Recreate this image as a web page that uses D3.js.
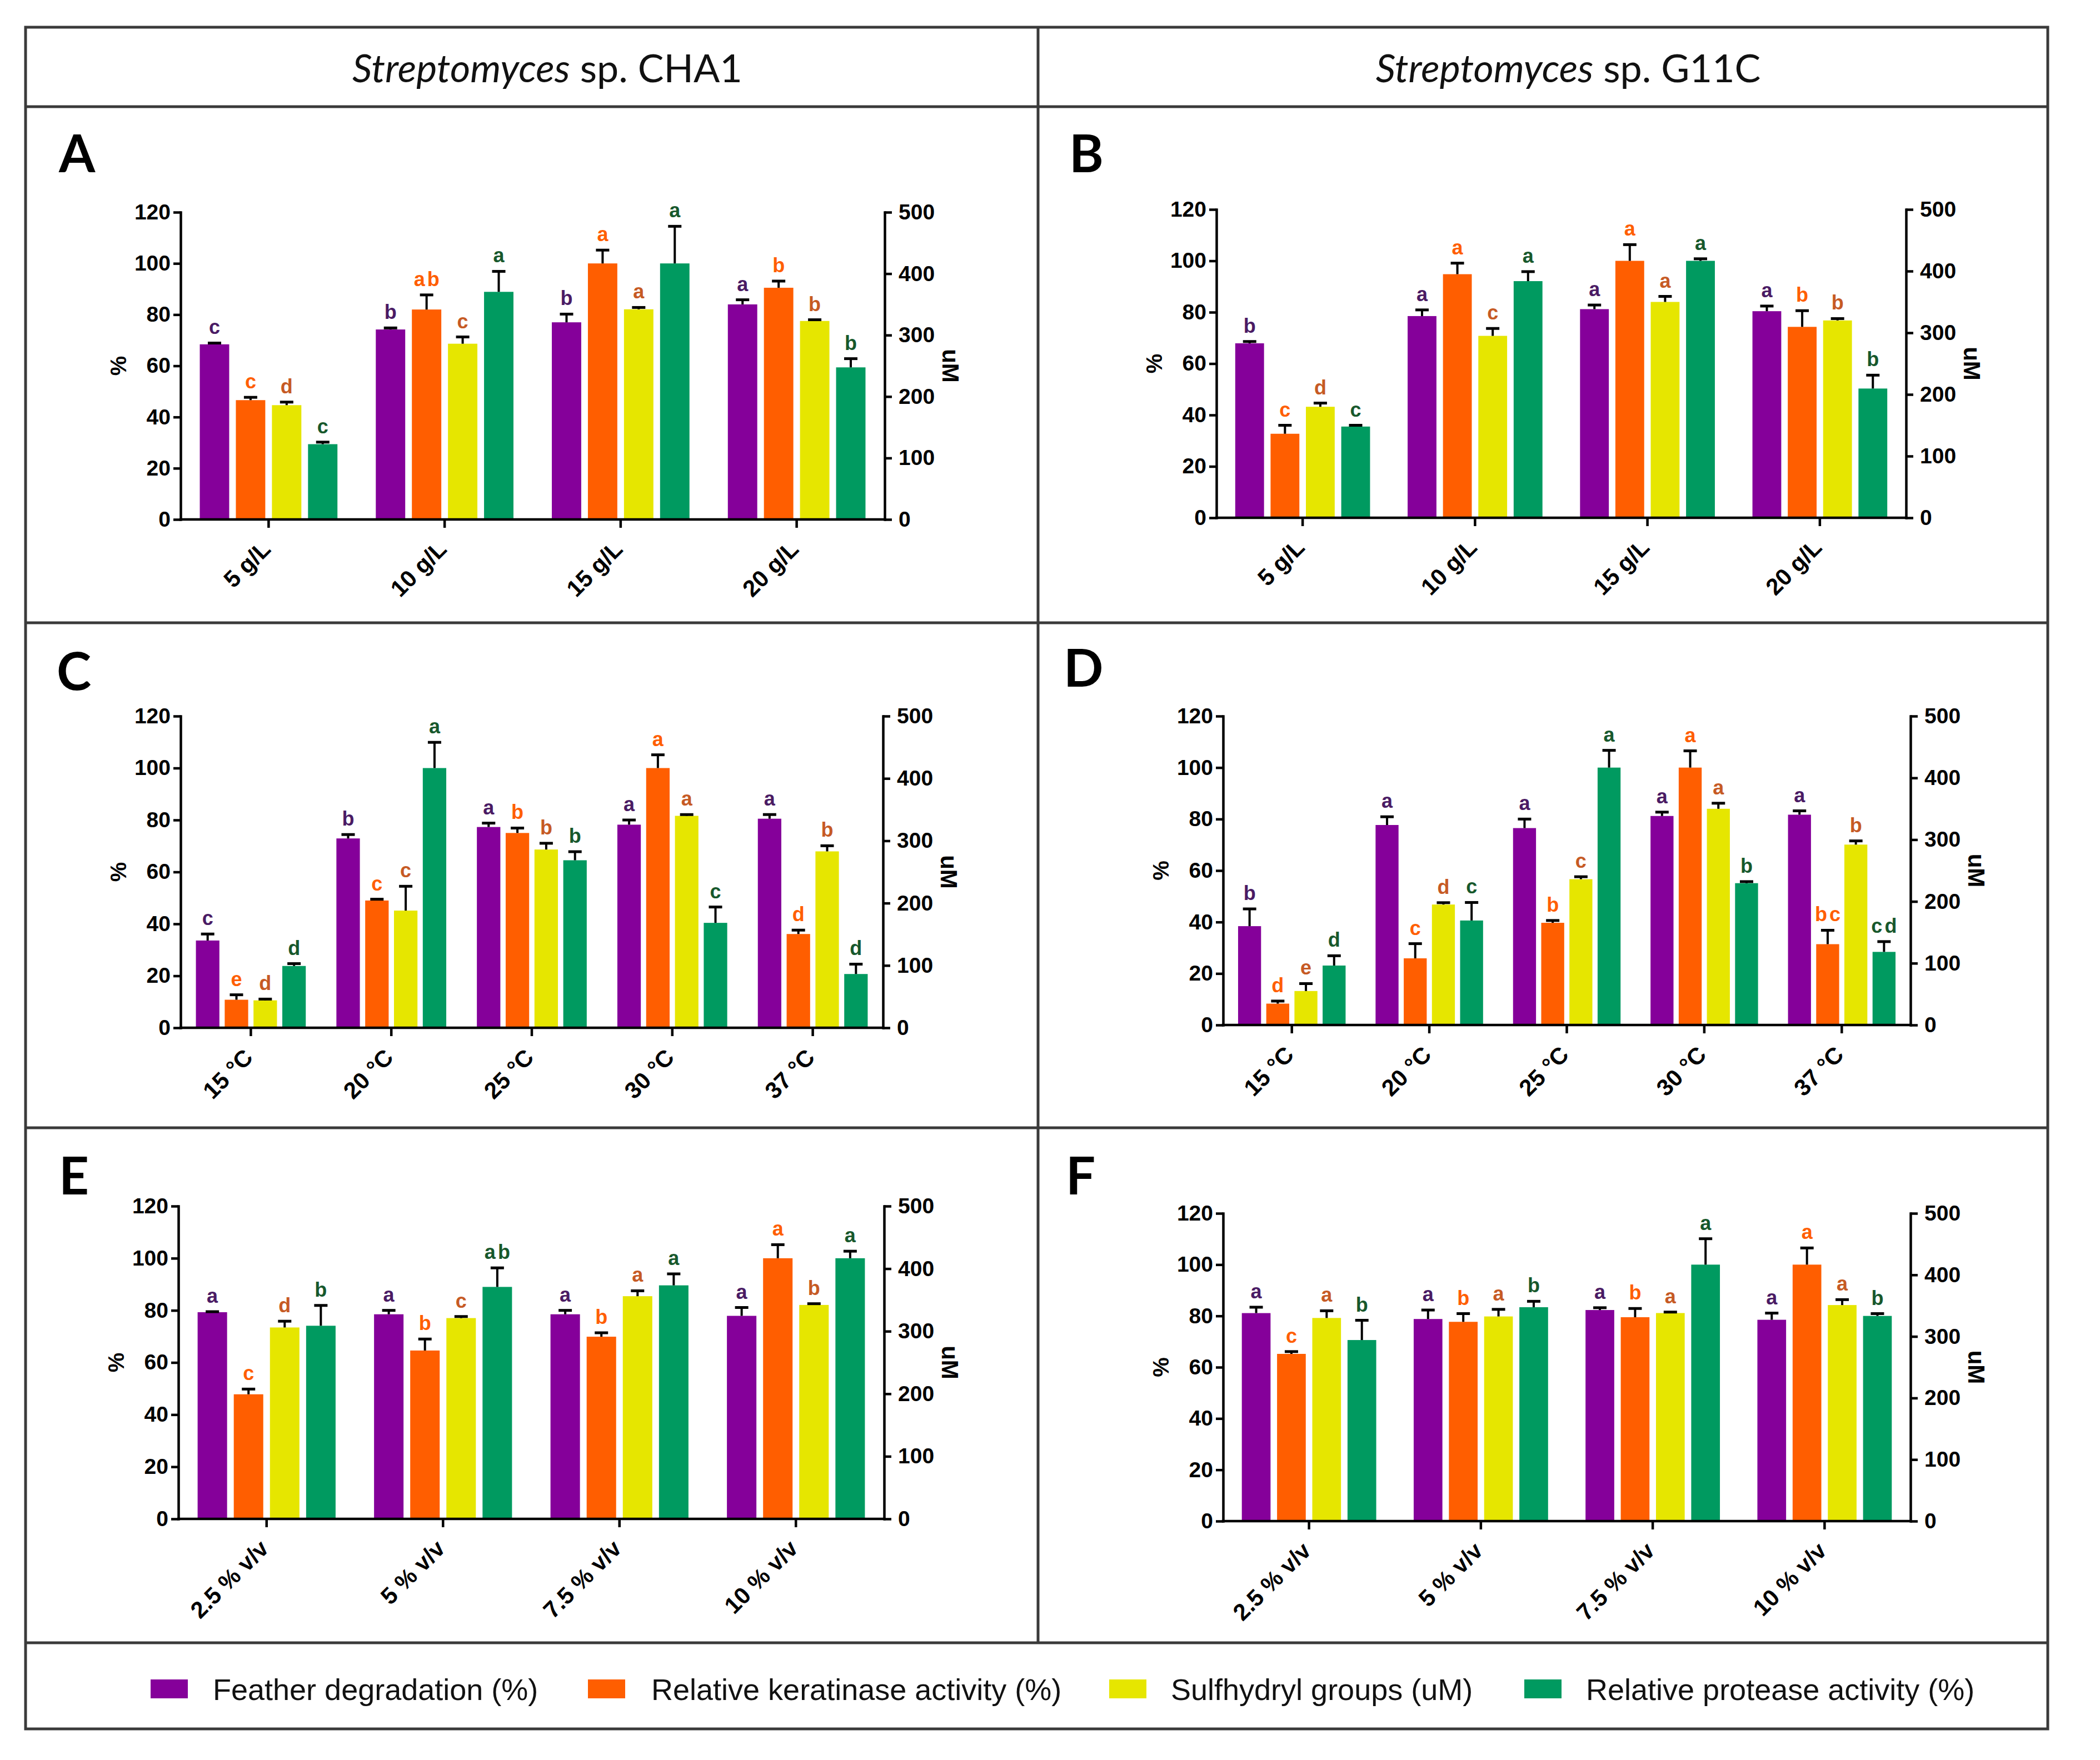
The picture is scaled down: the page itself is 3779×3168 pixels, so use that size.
<!DOCTYPE html>
<html>
<head>
<meta charset="utf-8">
<script src="https://cdn.jsdelivr.net/npm/d3@7"></script>
<style>
  html, body { margin: 0; padding: 0; background: #ffffff; }
  svg { display: block; }
</style>
</head>
<body>
<svg id="chart" width="3779" height="3168"></svg>
<script>
// ---------------- DATA ----------------
const seriesNames = ["Feather degradation (%)", "Relative keratinase activity (%)", "Sulfhydryl groups (uM)", "Relative protease activity (%)"];
const strainNames = ["CHA1", "G11C"];

const substrateGroups = ["5 g/L", "10 g/L", "15 g/L", "20 g/L"];
const temperatureGroups = ["15 °C", "20 °C", "25 °C", "30 °C", "37 °C"];
const inoculumGroups = ["2.5 % v/v", "5 % v/v", "7.5 % v/v", "10 % v/v"];

const percentTicks = [0, 20, 40, 60, 80, 100, 120];
const micromolarTicks = [0, 100, 200, 300, 400, 500];

// Panel A – CHA1, substrate concentration
const featherA = [68.4, 74.2, 77.0, 84.0];
const featherSdA = [0.5, 0.6, 3.2, 1.8];
const keratinaseA = [46.6, 82.0, 100.0, 90.5];
const keratinaseSdA = [1.1, 5.7, 5.2, 2.6];
const sulfhydrylA = [186, 286, 342, 323];
const sulfhydrylSdA = [5, 11, 3, 2];
const proteaseA = [29.4, 88.9, 100.0, 59.4];
const proteaseSdA = [0.8, 8.0, 14.5, 3.4];
const lettersA = [["c", "b", "b", "a"], ["c", "ab", "a", "b"], ["d", "c", "a", "b"], ["c", "a", "a", "b"]];

// Panel B – G11C, substrate concentration
const featherB = [67.9, 78.5, 81.2, 80.4];
const featherSdB = [0.7, 2.4, 1.6, 2.0];
const keratinaseB = [32.7, 94.8, 100.0, 74.3];
const keratinaseSdB = [3.3, 4.3, 6.3, 6.3];
const sulfhydrylB = [180, 295, 350, 320];
const sulfhydrylSdB = [6, 12, 9, 3];
const proteaseB = [35.5, 92.1, 100.0, 50.3];
const proteaseSdB = [0.5, 3.7, 0.8, 5.2];
const lettersB = [["b", "a", "a", "a"], ["c", "a", "a", "b"], ["d", "c", "a", "b"], ["c", "a", "a", "b"]];

// Panel C – CHA1, temperature
const featherC = [33.6, 72.9, 77.3, 78.2, 80.5];
const featherSdC = [2.5, 1.5, 1.5, 1.8, 1.6];
const keratinaseC = [10.8, 49.0, 75.0, 100.0, 36.1];
const keratinaseSdC = [1.9, 0.5, 1.9, 5.1, 1.5];
const sulfhydrylC = [44, 188, 286, 340, 283];
const sulfhydrylSdC = [2, 39, 10, 2, 9];
const proteaseC = [23.8, 100.0, 64.5, 40.4, 20.7];
const proteaseSdC = [0.9, 9.9, 3.3, 6.1, 3.8];
const lettersC = [["c", "b", "a", "a", "a"], ["e", "c", "b", "a", "d"], ["d", "c", "b", "a", "b"], ["d", "a", "b", "c", "d"]];

// Panel D – G11C, temperature
const featherD = [38.4, 77.7, 76.5, 81.2, 81.7];
const featherSdD = [6.7, 3.2, 3.5, 1.5, 1.5];
const keratinaseD = [8.3, 25.9, 39.7, 100.0, 31.4];
const keratinaseSdD = [1.0, 5.7, 0.9, 6.5, 5.4];
const sulfhydrylD = [55, 195, 236, 350, 292];
const sulfhydrylSdD = [12, 3, 4, 9, 6];
const proteaseD = [23.1, 40.6, 100.0, 55.1, 28.4];
const proteaseSdD = [3.8, 7.0, 6.7, 0.6, 4.0];
const lettersD = [["b", "a", "a", "a", "a"], ["d", "c", "b", "a", "bc"], ["e", "d", "c", "a", "b"], ["d", "c", "a", "b", "cd"]];

// Panel E – CHA1, inoculum size
const featherE = [79.3, 78.5, 78.5, 77.9];
const featherSdE = [0.2, 1.5, 1.5, 3.2];
const keratinaseE = [47.8, 64.6, 69.9, 100.0];
const keratinaseSdE = [2.0, 4.4, 1.5, 5.2];
const sulfhydrylE = [306, 321, 356, 342];
const sulfhydrylSdE = [10, 2.5, 8.6, 2];
const proteaseE = [74.1, 89.0, 89.6, 100.0];
const proteaseSdE = [7.8, 7.3, 4.4, 2.7];
const lettersE = [["a", "a", "a", "a"], ["c", "b", "b", "a"], ["d", "c", "a", "b"], ["b", "ab", "a", "a"]];

// Panel F – G11C, inoculum size
const featherF = [81.1, 78.8, 82.3, 78.5];
const featherSdF = [2.3, 3.5, 0.9, 2.6];
const keratinaseF = [65.2, 77.7, 79.5, 100.0];
const keratinaseSdF = [0.9, 3.2, 3.4, 6.5];
const sulfhydrylF = [330, 332.5, 338, 351];
const sulfhydrylSdF = [11.7, 11.5, 1.6, 8.8];
const proteaseF = [70.6, 83.4, 100.0, 80.0];
const proteaseSdF = [7.7, 2.3, 10.1, 0.9];
const lettersF = [["a", "a", "a", "a"], ["c", "b", "b", "a"], ["a", "a", "a", "a"], ["b", "b", "a", "b"]];

// ---------------- STYLE / LAYOUT ----------------
const barColors = ["#85009a", "#ff5e00", "#e6e600", "#009a60"];
const letterColors = ["#4a1b64", "#ff5e00", "#c65a24", "#17582c"];
const FONT = "'Liberation Sans', Arial, Helvetica, sans-serif";
const HEAD_FONT = "Lato, 'Open Sans', sans-serif";
const lineColor = "#3a3a3a";

const panels = [
  { id: "A", lx: 106, ly: 310, left: 325, right: 1592, top: 382, bottom: 935, groups: substrateGroups,
    means: [featherA, keratinaseA, sulfhydrylA, proteaseA], sds: [featherSdA, keratinaseSdA, sulfhydrylSdA, proteaseSdA], sig: lettersA },
  { id: "B", lx: 1924, ly: 310, left: 2189, right: 3430, top: 377, bottom: 932, groups: substrateGroups,
    means: [featherB, keratinaseB, sulfhydrylB, proteaseB], sds: [featherSdB, keratinaseSdB, sulfhydrylSdB, proteaseSdB], sig: lettersB },
  { id: "C", lx: 102, ly: 1242, left: 325, right: 1589, top: 1289, bottom: 1850, groups: temperatureGroups,
    means: [featherC, keratinaseC, sulfhydrylC, proteaseC], sds: [featherSdC, keratinaseSdC, sulfhydrylSdC, proteaseSdC], sig: lettersC },
  { id: "D", lx: 1914, ly: 1236, left: 2201, right: 3438, top: 1289, bottom: 1845, groups: temperatureGroups,
    means: [featherD, keratinaseD, sulfhydrylD, proteaseD], sds: [featherSdD, keratinaseSdD, sulfhydrylSdD, proteaseSdD], sig: lettersD },
  { id: "E", lx: 106, ly: 2150, left: 321, right: 1591, top: 2171, bottom: 2734, groups: inoculumGroups,
    means: [featherE, keratinaseE, sulfhydrylE, proteaseE], sds: [featherSdE, keratinaseSdE, sulfhydrylSdE, proteaseSdE], sig: lettersE },
  { id: "F", lx: 1918, ly: 2150, left: 2201, right: 3438, top: 2184, bottom: 2738, groups: inoculumGroups,
    means: [featherF, keratinaseF, sulfhydrylF, proteaseF], sds: [featherSdF, keratinaseSdF, sulfhydrylSdF, proteaseSdF], sig: lettersF }
];

const svg = d3.select("#chart");
svg.append("rect").attr("width", 3779).attr("height", 3168).attr("fill", "#ffffff");

// ---------------- FRAME ----------------
const frame = svg.append("g").attr("stroke", lineColor).attr("stroke-width", 5).attr("fill", "none");
frame.append("rect").attr("x", 46).attr("y", 49).attr("width", 3685 - 46).attr("height", 3112 - 49);
[192, 1121, 2030, 2957].forEach(y => frame.append("line").attr("x1", 46).attr("x2", 3685).attr("y1", y).attr("y2", y));
frame.append("line").attr("x1", 1868).attr("x2", 1868).attr("y1", 49).attr("y2", 2957);

// Headers
[[985, strainNames[0]], [2822, strainNames[1]]].forEach(([cx, name]) => {
  const t = svg.append("text").attr("x", cx).attr("y", 148).attr("text-anchor", "middle")
    .attr("font-family", HEAD_FONT).attr("font-size", 70).attr("fill", "#111");
  t.append("tspan").attr("font-style", "italic").text("Streptomyces");
  t.append("tspan").text(" sp. " + name);
});

// ---------------- PANELS ----------------
function drawPanel(p) {
  const g = svg.append("g").attr("class", "panel-" + p.id);

  g.append("text").attr("x", p.lx).attr("y", p.ly).attr("font-family", HEAD_FONT)
    .attr("font-weight", 700).attr("font-size", 94).attr("fill", "#000").text(p.id);

  const x0 = d3.scaleBand().domain(p.groups).range([p.left, p.right]).paddingInner(0).paddingOuter(0);
  const bw = x0.bandwidth();
  const x1 = d3.scaleBand().domain(d3.range(seriesNames.length)).range([-0.391 * bw, 0.391 * bw]).paddingInner(0.185);
  const yL = d3.scaleLinear().domain([0, 120]).range([p.bottom, p.top]);
  const yR = d3.scaleLinear().domain([0, 500]).range([p.bottom, p.top]);
  const yFor = [yL, yL, yR, yL];

  const rows = [];
  p.groups.forEach((grp, gi) => {
    seriesNames.forEach((s, si) => {
      rows.push({ grp, si, v: p.means[si][gi], sd: p.sds[si][gi], sig: p.sig[si][gi] });
    });
  });
  const cx = d => x0(d.grp) + bw / 2 + x1(d.si) + x1.bandwidth() / 2;

  // bars
  g.selectAll("rect.bar").data(rows).join("rect").attr("class", "bar")
    .attr("x", d => x0(d.grp) + bw / 2 + x1(d.si))
    .attr("width", x1.bandwidth())
    .attr("y", d => yFor[d.si](d.v))
    .attr("height", d => p.bottom - yFor[d.si](d.v))
    .attr("fill", d => barColors[d.si]);

  // error bars (upper only)
  const eb = g.append("g").attr("stroke", "#000");
  eb.selectAll("line.v").data(rows).join("line").attr("class", "v")
    .attr("x1", cx).attr("x2", cx)
    .attr("y1", d => yFor[d.si](d.v)).attr("y2", d => yFor[d.si](d.v + d.sd))
    .attr("stroke-width", 4);
  eb.selectAll("line.cap").data(rows).join("line").attr("class", "cap")
    .attr("x1", d => cx(d) - 12).attr("x2", d => cx(d) + 12)
    .attr("y1", d => yFor[d.si](d.v + d.sd)).attr("y2", d => yFor[d.si](d.v + d.sd))
    .attr("stroke-width", 5);

  // significance letters
  g.selectAll("text.sig").data(rows).join("text").attr("class", "sig")
    .attr("x", d => cx(d) + (d.sig.length > 1 ? 2 : 0))
    .attr("y", d => yFor[d.si](d.v + d.sd) - 16)
    .attr("text-anchor", "middle")
    .attr("font-family", FONT).attr("font-weight", 700).attr("font-size", 36)
    .attr("letter-spacing", d => d.sig.length > 1 ? 4 : 0)
    .attr("fill", d => letterColors[d.si])
    .text(d => d.sig);

  // axes
  const styleAxis = (sel, size) => {
    sel.select(".domain").attr("stroke", "#000").attr("stroke-width", 4.5).attr("stroke-linecap", "square");
    sel.selectAll(".tick line").attr("stroke", "#000").attr("stroke-width", 4.5);
    sel.selectAll(".tick text").attr("fill", "#000").attr("font-family", FONT)
      .attr("font-weight", 700).attr("font-size", size);
  };

  const leftAxis = g.append("g").attr("transform", `translate(${p.left},0)`)
    .call(d3.axisLeft(yL).tickValues(percentTicks).tickSize(13).tickSizeOuter(0).tickPadding(5));
  styleAxis(leftAxis, 39);

  const rightAxis = g.append("g").attr("transform", `translate(${p.right},0)`)
    .call(d3.axisRight(yR).tickValues(micromolarTicks).tickSize(13).tickSizeOuter(0).tickPadding(12));
  styleAxis(rightAxis, 39);

  const xAxis = g.append("g").attr("transform", `translate(0,${p.bottom})`)
    .call(d3.axisBottom(x0).tickSize(15).tickSizeOuter(0));
  styleAxis(xAxis, 42);
  xAxis.select(".domain").attr("d", `M${p.left},0H${p.right}`);
  xAxis.selectAll(".tick text")
    .attr("y", null).attr("dy", null)
    .attr("text-anchor", "end")
    .attr("transform", "translate(6,56) rotate(-45)");

  // axis titles
  const yMid = (p.top + p.bottom) / 2;
  g.append("text").attr("transform", `translate(${p.left - 112},${yMid}) rotate(-90)`)
    .attr("text-anchor", "middle").attr("dominant-baseline", "central")
    .attr("font-family", FONT).attr("font-weight", 700).attr("font-size", 40).text("%");
  g.append("text").attr("transform", `translate(${p.right + 118},${yMid}) rotate(90)`)
    .attr("text-anchor", "middle").attr("dominant-baseline", "central")
    .attr("font-family", FONT).attr("font-weight", 700).attr("font-size", 42).text("uM");
}
panels.forEach(drawPanel);

// ---------------- LEGEND ----------------
const legendBoxX = [271, 1058, 1996, 2743];
const legendTextX = [383, 1172, 2107, 2854];
const legend = svg.append("g");
legend.selectAll("rect").data(seriesNames).join("rect")
  .attr("x", (d, i) => legendBoxX[i]).attr("y", 3023).attr("width", 67).attr("height", 34)
  .attr("fill", (d, i) => barColors[i]);
legend.selectAll("text").data(seriesNames).join("text")
  .attr("x", (d, i) => legendTextX[i]).attr("y", 3041).attr("dominant-baseline", "central")
  .attr("font-family", FONT).attr("font-size", 54).attr("fill", "#111")
  .text(d => d);
</script>
</body>
</html>
